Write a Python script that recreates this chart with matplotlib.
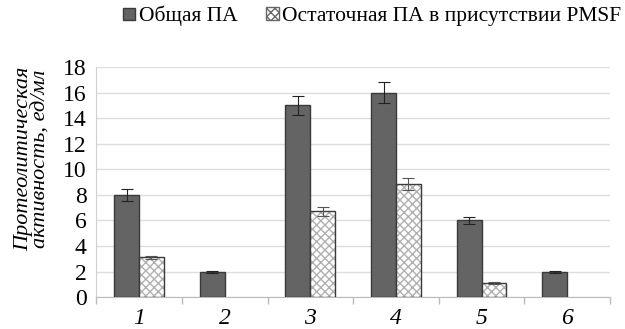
import numpy as np
import matplotlib.pyplot as plt

plt.rcParams['font.family'] = ['Liberation Serif', 'DejaVu Serif']

categories = ['1', '2', '3', '4', '5', '6']
total_pa = [8.0, 2.0, 15.0, 16.0, 6.0, 2.0]
total_err = [0.45, 0.08, 0.75, 0.8, 0.3, 0.08]
resid_pa = [3.1, 0.0, 6.7, 8.85, 1.1, 0.0]
resid_err = [0.15, 0.0, 0.35, 0.5, 0.05, 0.0]

fig = plt.figure(figsize=(6.25, 3.29), dpi=100)
ax = fig.add_axes([0.154, 0.097, 0.822, 0.699])

x = np.arange(len(categories))
w = 0.29
dark = '#646464'

ax.bar(x - w/2, total_pa, w, color=dark, edgecolor='#3a3a3a', linewidth=1.0, zorder=3)
ax.errorbar(x - w/2, total_pa, yerr=total_err, fmt='none', ecolor='#222222',
            elinewidth=0.8, capsize=4, capthick=0.8, zorder=4)

# hatched bars: hatch drawn in light grey, outline drawn separately
mask = [i for i, v in enumerate(resid_pa) if v > 0]
xr = x[mask] + w/2
yr = [resid_pa[i] for i in mask]
er = [resid_err[i] for i in mask]
ax.bar(xr, yr, w, color='white', edgecolor='#b0b0b0', hatch='xxxx', linewidth=0, zorder=3)
ax.bar(xr, yr, w, fill=False, edgecolor='#3a3a3a', linewidth=1.0, zorder=3)
ax.errorbar(xr, yr, yerr=er, fmt='none', ecolor='#555555',
            elinewidth=0.8, capsize=4, capthick=0.8, zorder=4)

ax.set_xlim(-0.5, len(categories) - 0.5)
ax.set_ylim(0, 18)
ax.set_yticks(range(0, 19, 2))
ax.set_xticks(x)
ax.set_xticklabels(categories, fontstyle='italic', fontsize=17)
ax.tick_params(axis='y', labelsize=17, length=0, pad=7)
ax.tick_params(axis='x', length=0, pad=8)
ax.set_xticks(np.arange(-0.5, len(categories)), minor=True)
ax.tick_params(axis='x', which='minor', length=5, color='#bbbbbb', width=1)

ax.grid(axis='y', color='#dddddd', linewidth=1, zorder=0)
ax.set_axisbelow(True)
for s in ['top', 'right']:
    ax.spines[s].set_visible(False)
ax.spines['left'].set_color('#d0d0d0')
ax.spines['bottom'].set_color('#bbbbbb')

ax.set_ylabel('Протеолитическая\nактивность, ед/мл', fontstyle='italic',
              fontsize=16, linespacing=0.9)
ax.yaxis.set_label_coords(-0.088, 0.6)

h1 = plt.Line2D([], [], marker='s', color='none', markerfacecolor=dark,
                markeredgecolor='#3a3a3a', markersize=9)
h2 = plt.Rectangle((0, 0), 1, 1, facecolor='white', edgecolor='#666666', hatch='xxxx')
fig.legend([h1, h2], ['Общая ПА', 'Остаточная ПА в присутствии PMSF'],
           loc='center', bbox_to_anchor=(0.595, 0.952), ncol=2, frameon=False,
           fontsize=15.5, handlelength=0.6, handletextpad=0.15, columnspacing=1.3,
           handleheight=0.6)

fig.savefig('out.png', dpi=100)
